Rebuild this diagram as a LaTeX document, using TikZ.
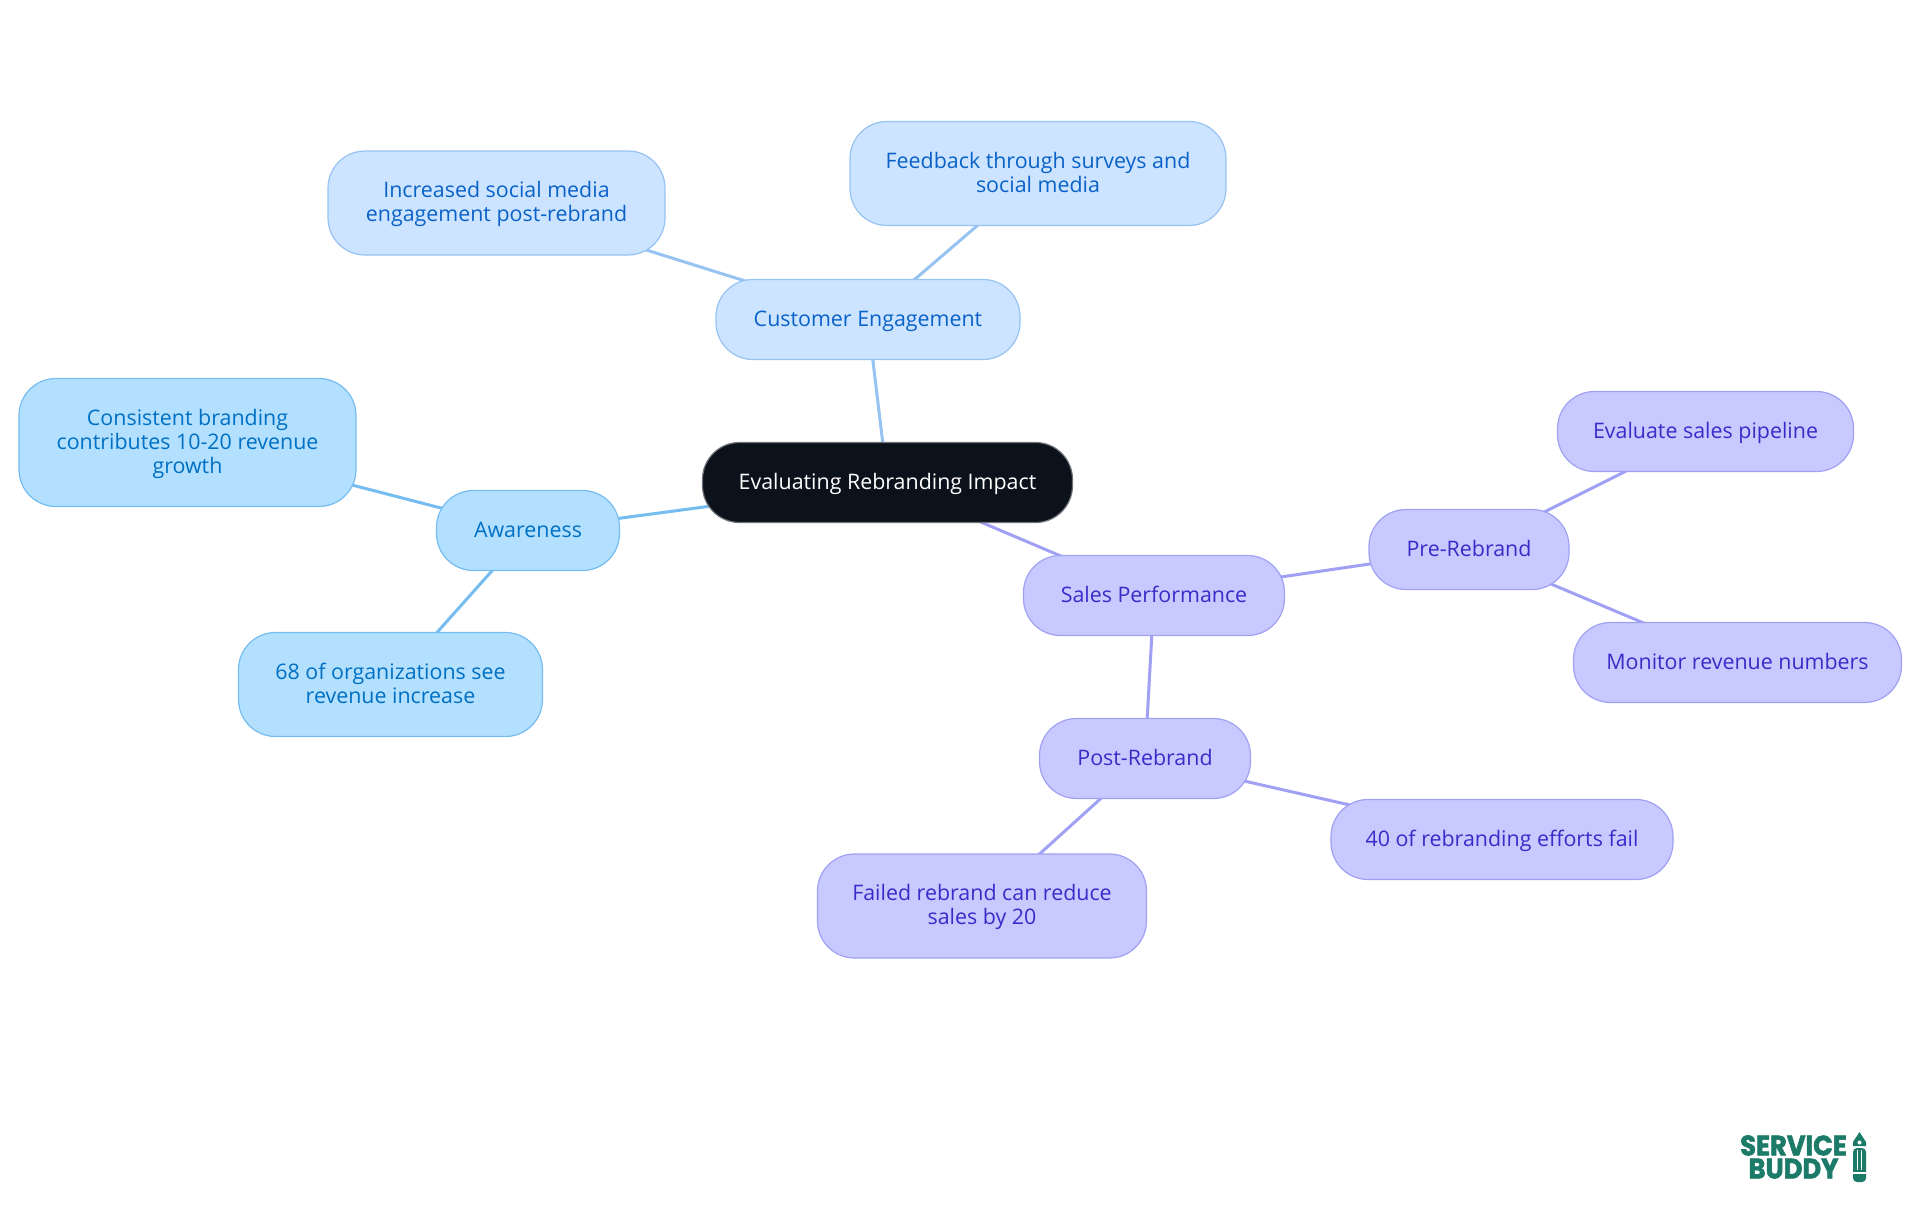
\documentclass[tikz,border=0pt]{standalone}
\usepackage{fontspec}
\setmainfont{Open Sans}
\newfontfamily\logofont[FakeBold=2,FakeStretch=0.92]{Poppins Bold}
\usetikzlibrary{backgrounds}
\definecolor{rootfill}{HTML}{0B121B}
\definecolor{rootline}{HTML}{6E7177}
\definecolor{skyfill}{HTML}{B3E0FF}
\definecolor{skyline}{HTML}{75BDF0}
\definecolor{skytext}{HTML}{0070C4}
\definecolor{azurefill}{HTML}{CCE4FF}
\definecolor{azureline}{HTML}{96C3F2}
\definecolor{azuretext}{HTML}{0A62C8}
\definecolor{violetfill}{HTML}{C8CAFF}
\definecolor{violetline}{HTML}{A0A0F5}
\definecolor{violettext}{HTML}{3A2BC9}
\definecolor{logogreen}{HTML}{1B7A68}
\newcommand{\topstrut}{\rule{0pt}{20pt}}
\newcommand{\botstrut}{\rule[-7pt]{0pt}{7pt}}
\tikzset{
  box/.style={rectangle,rounded corners=37pt,align=center,inner sep=0pt,
    line width=1.2pt,minimum height=80pt,
    execute at begin node=\topstrut,execute at end node=\botstrut,
    font=\fontsize{21.4}{24}\selectfont},
  rootbox/.style={box,draw=rootline,fill=rootfill,text=white},
  skybox/.style={box,draw=skyline,fill=skyfill,text=skytext},
  azurebox/.style={box,draw=azureline,fill=azurefill,text=azuretext},
  violetbox/.style={box,draw=violetline,fill=violetfill,text=violettext},
  link/.style={line width=3pt}
}
\begin{document}
\begin{tikzpicture}[x=1pt,y=-1pt]
      \useasboundingbox (0,0) rectangle (1920,1215);
      \path (887.5,482.5) node[rootbox,minimum width=370pt] (root) {Evaluating Rebranding Impact};
      % left branch
      \path (528,530.5) node[skybox,minimum width=183pt] (aware) {Awareness};
      \path (187.5,442.5) node[skybox,minimum width=337pt,minimum height=128pt] (consistent) {\topstrut Consistent branding\\contributes 10-20 revenue\\growth\botstrut};
      \path (390.5,684.5) node[skybox,minimum width=304pt,minimum height=104pt] (organizations) {\topstrut 68 of organizations see\\revenue increase\botstrut};
      % top branch
      \path (868,319.5) node[azurebox,minimum width=304pt] (customer) {Customer Engagement};
      \path (496.5,203) node[azurebox,minimum width=337pt,minimum height=104pt] (social) {\topstrut Increased social media\\engagement post-rebrand\botstrut};
      \path (1038,173.5) node[azurebox,minimum width=376pt,minimum height=104pt] (feedback) {\topstrut Feedback through surveys and\\social media\botstrut};
      % right branch
      \path (1154,595.5) node[violetbox,minimum width=261pt] (sales) {Sales Performance};
      \path (1469,549.5) node[violetbox,minimum width=200pt] (pre) {Pre-Rebrand};
      \path (1705.5,431.5) node[violetbox,minimum width=296pt] (pipeline) {Evaluate sales pipeline};
      \path (1737.5,662.5) node[violetbox,minimum width=328pt] (monitor) {Monitor revenue numbers};
      \path (1145,758.5) node[violetbox,minimum width=211pt] (post) {Post-Rebrand};
      \path (1502,839.5) node[violetbox,minimum width=342pt] (fail) {40 of rebranding efforts fail};
      \path (982,906) node[violetbox,minimum width=329pt,minimum height=104pt] (reduce) {\topstrut Failed rebrand can reduce\\sales by 20\botstrut};
      \begin{scope}[on background layer]
       \draw[link,skyline] (root.center)--(aware.center);
       \draw[link,skyline] (aware.center)--(consistent.center);
       \draw[link,skyline] (aware.center)--(organizations.center);
       \draw[link,azureline] (root.center)--(customer.center);
       \draw[link,azureline] (customer.center)--(social.center);
       \draw[link,azureline] (customer.center)--(feedback.center);
       \draw[link,violetline] (root.center)--(sales.center);
       \draw[link,violetline] (sales.center)--(pre.center);
       \draw[link,violetline] (pre.center)--(pipeline.center);
       \draw[link,violetline] (pre.center)--(monitor.center);
       \draw[link,violetline] (sales.center)--(post.center);
       \draw[link,violetline] (post.center)--(fail.center);
       \draw[link,violetline] (post.center)--(reduce.center);
      \end{scope}
      % logo
      \path (1793.5,1157) node[align=center,inner sep=0pt,text=logogreen,
        font=\logofont\fontsize{28}{23}\selectfont] (logo) {SERVICE\\BUDDY};
      \begin{scope}[shift={(1859.5,1157)}]
       \path[fill=logogreen,rounded corners=4pt] (-6.5,-9)--(-6.5,25)--(6.5,25)--(6.5,-9)--cycle;
       \path[fill=logogreen] (-6.5,-11)--(-6.5,-15)--(0,-25)--(6.5,-15)--(6.5,-11)--cycle;
       \path[fill=white] (0,-14.5) circle (2);
       \path[fill=white] (-2.5,-7) rectangle (-1.2,13);
       \path[fill=white] (1.2,-7) rectangle (2.5,13);
       \path[fill=white] (-6.5,15) rectangle (6.5,16.5);
      \end{scope}
     \end{tikzpicture}
\end{document}
